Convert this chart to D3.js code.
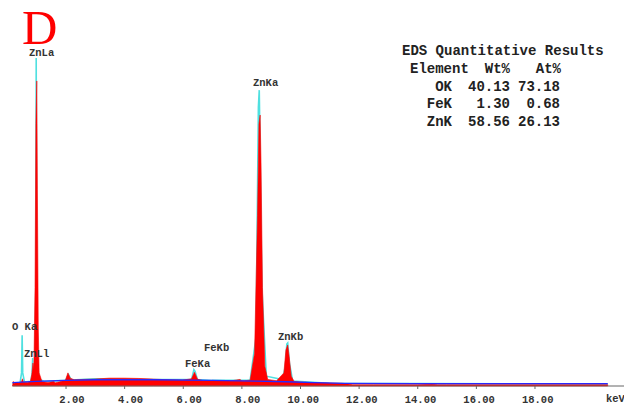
<!DOCTYPE html>
<html><head><meta charset="utf-8">
<script src="https://cdn.jsdelivr.net/npm/d3@7/dist/d3.min.js"></script>
<style>body{margin:0;background:#fff}svg{display:block}</style>
</head><body>
<svg id="c" width="624" height="405"></svg>
<script>
// Measured spectrum (red)
const energyKeV = [0.19,0.22,0.25,0.3,0.4,0.5,0.53,0.56,0.7,0.8,0.85,0.89,0.92,0.96,0.99,1.02,1.04,1.07,1.1,1.2,1.4,1.6,1.65,1.8,2.0,2.08,2.16,2.3,2.6,3.0,3.5,4.0,4.5,5.0,5.5,6.0,6.3,6.4,6.5,6.7,7.0,7.3,7.6,7.95,8.02,8.1,8.3,8.45,8.55,8.6,8.64,8.67,8.72,8.8,8.9,9.2,9.45,9.52,9.58,9.63,9.7,9.8,10.0,10.5,11.0,11.5,11.7,11.8,12.5,14.0,14.5,14.7,15.0,20.5];
const measuredCounts = [0,14,8,10,9,13,22,12,11,14,35,70,50,300,800,930,600,180,40,13,11,14,10,13,18,40,24,19,20,21,24,24,23,21,19,18,22,42,21,16,17,16,15,20,16,16,18,100,520,800,826,680,300,60,20,16,40,110,125,90,30,14,12,10,9,8,5,4,4,4,5,4,4,4];
// Fitted spectrum (cyan)
const fitEnergy = [0.19,0.45,0.5,0.52,0.54,0.6,0.82,0.86,0.88,0.9,0.95,0.985,1.0,1.015,1.05,1.1,1.3,2.0,2.1,2.2,3.0,5.0,6.3,6.38,6.42,6.5,7.0,8.3,8.5,8.58,8.61,8.64,8.7,8.85,9.4,9.5,9.55,9.58,9.64,9.75,11.0,20.5];
const fitCounts = [8,10,40,155,40,12,14,40,85,40,30,300,1000,300,60,20,14,17,35,18,22,20,20,50,45,20,17,18,150,850,902,700,300,30,20,60,128,131,70,15,8,6];
// Background (blue)
const bgEnergy = [0.19,0.5,1.0,2.0,3.0,5.0,7.0,8.5,9.5,10.5,11.5,14.0,20.5];
const bgCounts = [10,12,14,17,19,19,17,15,13,10,8,7,7];
// Peak labels
const peakNames = ["ZnLa","ZnKa","O Ka","ZnLl","FeKa","FeKb","ZnKb"];
const peakEnergy = [1.01,8.63,0.52,0.88,6.40,7.06,9.57];
// Axis ticks
const tickValues = [2,4,6,8,10,12,14,16,18];
// Quantitative results table
const tableTitle = "EDS Quantitative Results";
const tableHeader = ["Element","Wt%","At%"];
const elements = ["OK","FeK","ZnK"];
const wtPct = ["40.13","1.30","58.56"];
const atPct = ["73.18","0.68","26.13"];

const svg = d3.select("#c");
const x = d3.scaleLinear().domain([0,20]).range([6.9, 593.1]);
const y = d3.scaleLinear().domain([0,1000]).range([386, 58]);
const mono = "'Liberation Mono','Courier New',monospace";

// cyan fit
svg.append("path")
  .datum(fitEnergy.map((e,i)=>[e,fitCounts[i]]))
  .attr("fill","none").attr("stroke","#4fe0e0").attr("stroke-width",1.6)
  .attr("d", d3.line().x(d=>x(d[0])).y(d=>y(d[1])));

// red measured area
svg.append("path")
  .datum(energyKeV.map((e,i)=>[e,measuredCounts[i]]))
  .attr("fill","#ff0000").attr("stroke","#ff0000").attr("stroke-width",0.6)
  .attr("d", d3.area().x(d=>x(d[0])).y0(y(0)).y1(d=>y(d[1])));

// blue background
svg.append("path")
  .datum(bgEnergy.map((e,i)=>[e,bgCounts[i]]))
  .attr("fill","none").attr("stroke","#2828ff").attr("stroke-width",1.3)
  .attr("d", d3.line().x(d=>x(d[0])).y(d=>y(d[1])));

// axis
const ax = svg.append("g").attr("transform",`translate(0,${y(0)})`)
  .call(d3.axisBottom(x).tickValues(tickValues).tickSize(3).tickFormat(d3.format(".2f")));
ax.select(".domain").attr("stroke","#666").attr("d",`M${x(0.19)},0H624`);
ax.selectAll(".tick line").attr("stroke","#666");
ax.selectAll(".tick text").attr("text-anchor","end").attr("dx","18.5").attr("y",10)
  .attr("font-family",mono).attr("font-size",10.5).attr("font-weight","bold").attr("fill","#333");
svg.append("text").attr("x",606).attr("y",402).text("keV")
  .attr("font-family",mono).attr("font-size",10.5).attr("font-weight","bold").attr("fill","#333");

// peak labels
const labelPos = {"ZnLa":[29,56],"ZnKa":[253,86],"O Ka":[12,330],"ZnLl":[24,357],"FeKa":[185,367],"FeKb":[204,351],"ZnKb":[278,340]};
svg.selectAll(".pl").data(peakNames).enter().append("text")
  .attr("x",d=>labelPos[d][0]).attr("y",d=>labelPos[d][1])
  .attr("xml:space","preserve").style("white-space","pre")
  .attr("font-family",mono).attr("font-size",10.5).attr("font-weight","bold").attr("fill","#333")
  .text(d=>d);

// table
const t = svg.append("g").attr("font-family",mono).attr("font-size",14).attr("font-weight","bold").attr("fill","#222");
t.append("text").attr("x",402).attr("y",55).text(tableTitle);
t.append("text").attr("x",410).attr("y",73).text(tableHeader[0]);
t.append("text").attr("x",510).attr("y",73).attr("text-anchor","end").text(tableHeader[1]);
t.append("text").attr("x",561).attr("y",73).attr("text-anchor","end").text(tableHeader[2]);
const rowsY = [91,108,126];
elements.forEach((el,i)=>{
  t.append("text").attr("x",452).attr("y",rowsY[i]).attr("text-anchor","end").text(el);
  t.append("text").attr("x",510).attr("y",rowsY[i]).attr("text-anchor","end").text(wtPct[i]);
  t.append("text").attr("x",560).attr("y",rowsY[i]).attr("text-anchor","end").text(atPct[i]);
});

// panel letter
svg.append("text").attr("x",22).attr("y",44).text("D")
  .attr("font-family","'Liberation Serif','Times New Roman',serif").attr("font-size",49).attr("fill","#ff0000");
</script>
</body></html>
